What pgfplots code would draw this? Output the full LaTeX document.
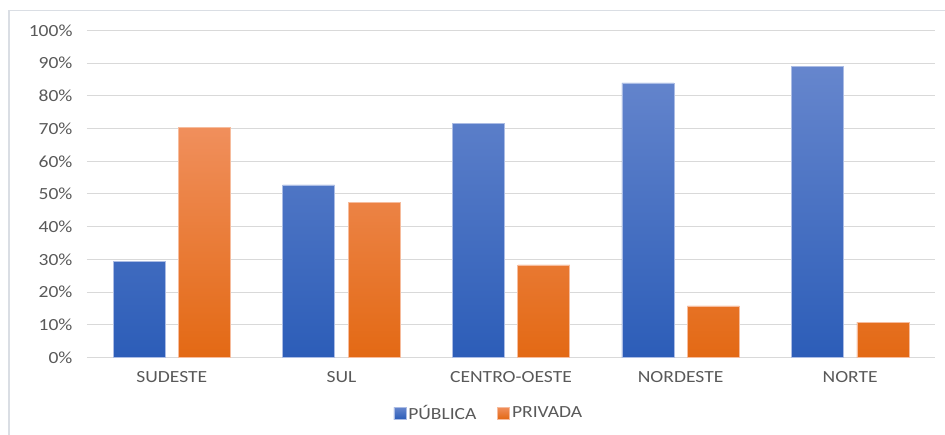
\documentclass[border=0pt]{standalone}
\usepackage{pgfplots}
\pgfplotsset{compat=1.18}
\usepackage{fontspec}
\setmainfont{Carlito}[FakeStretch=1.15]
\definecolor{txt}{HTML}{595959}
\definecolor{gridc}{HTML}{D9D9D9}
\definecolor{frame}{HTML}{DADEE4}
\definecolor{bluetop}{HTML}{6686CD}
\definecolor{bluebot}{HTML}{2C5DB8}
\definecolor{ortop}{HTML}{F08F5C}
\definecolor{orbot}{HTML}{E36914}
\begin{document}
\begin{tikzpicture}[x=1pt,y=1pt]
\useasboundingbox (0,0) rectangle (945,434);
\draw[frame, line width=1.5pt] (9,-5) rectangle (955,423.5);
\begin{axis}[
  at={(87pt,76.5pt)}, anchor=south west,
  scale only axis, width=848pt, height=327pt,
  ybar=13.5pt, bar width=52pt,
  xmin=-0.5, xmax=4.5, ymin=0, ymax=100,
  xtick=data,
  xticklabels={SUDESTE,SUL,CENTRO-OESTE,NORDESTE,NORTE},
  ytick={0,10,...,100},
  yticklabel={\pgfmathprintnumber{\tick}\%},
  /pgf/number format/assume math mode=true,
  axis line style={draw=none},
  tick style={draw=none},
  ymajorgrids,
  major grid style={gridc, line width=1pt},
  ticklabel style={font=\fontsize{17}{20}\selectfont, text=txt},
  xticklabel style={yshift=-6pt},
  yticklabel style={xshift=-11pt},
  legend columns=2,
  legend style={draw=none, fill=none, at={(0.474,-0.17)}, anchor=center,
    font=\fontsize{17}{20}\selectfont, text=txt,
    /tikz/every even column/.append style={column sep=19pt}},
  legend image code/.code={\fill[#1] (0pt,-6pt) rectangle (12pt,6pt);},
]
\addplot[top color=bluetop, bottom color=bluebot, draw=bluetop!55!white, line width=0.6pt]
  coordinates {(0,29.3) (1,52.8) (2,71.5) (3,84.0) (4,89.0)};
\addplot[top color=ortop, bottom color=orbot, draw=ortop!60!white, line width=0.6pt]
  coordinates {(0,70.4) (1,47.5) (2,28.3) (3,15.8) (4,10.8)};
\legend{PÚBLICA, PRIVADA}
\end{axis}
\end{tikzpicture}
\end{document}
